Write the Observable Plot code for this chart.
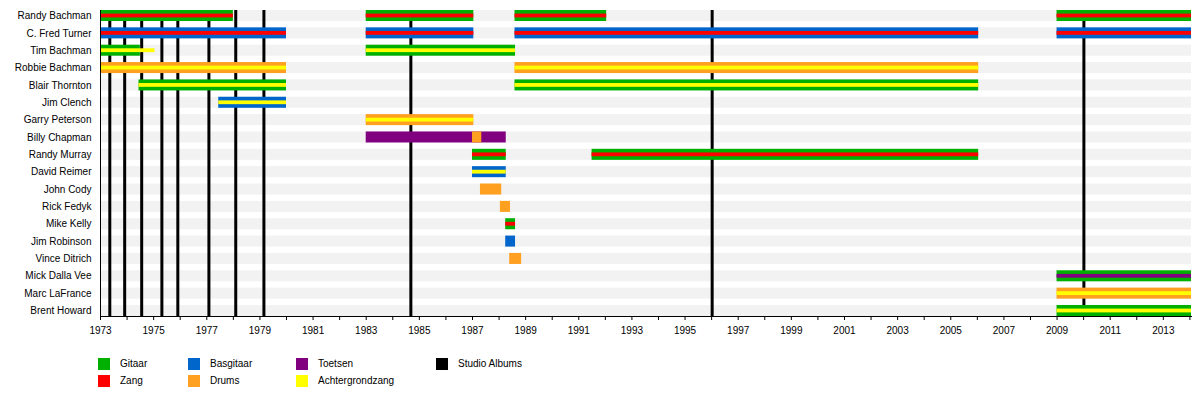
<!DOCTYPE html>
<html>
<head>
<meta charset="utf-8">
<script src="https://cdn.jsdelivr.net/npm/d3@7"></script>
<script src="https://cdn.jsdelivr.net/npm/@observablehq/plot@0.6"></script>
<style>
  body { margin: 0; background: #fff; font-family: "Liberation Sans", Arial, sans-serif; }
  #legend { display: grid; grid-template-columns: 90px 108px 140px auto; grid-auto-flow: column; grid-template-rows: 17px 17px; padding-left: 98px; margin-top: 13px; font-size: 10px; }
  .item { display: flex; align-items: flex-start; height: 17px; }
  .sw { width: 12px; height: 12px; margin-right: 10px; flex: none; }
  .lab { line-height: 12px; color: #000; }
</style>
</head>
<body>
<div id="chart"></div>
<div id="legend"></div>
<script>
const members = ["Randy Bachman", "C. Fred Turner", "Tim Bachman", "Robbie Bachman", "Blair Thornton",
  "Jim Clench", "Garry Peterson", "Billy Chapman", "Randy Murray", "David Reimer", "John Cody",
  "Rick Fedyk", "Mike Kelly", "Jim Robinson", "Vince Ditrich", "Mick Dalla Vee", "Marc LaFrance", "Brent Howard"];

const roles = ["Gitaar", "Zang", "Basgitaar", "Drums", "Toetsen", "Achtergrondzang", "Studio Albums"];
const roleColors = ["#00b000", "#ff0000", "#0066cc", "#ffa020", "#800080", "#ffff00", "#000000"];

const endYear = 2014.06;

// full-height bars: [member, role, start, end]
const mainBars = [
  ["Randy Bachman", "Gitaar", 1973, 1978.0], ["Randy Bachman", "Gitaar", 1983.0, 1987.05],
  ["Randy Bachman", "Gitaar", 1988.6, 1992.05], ["Randy Bachman", "Gitaar", 2009.0, endYear],
  ["C. Fred Turner", "Basgitaar", 1973, 1980.0], ["C. Fred Turner", "Basgitaar", 1983.0, 1987.05],
  ["C. Fred Turner", "Basgitaar", 1988.6, 2006.05], ["C. Fred Turner", "Basgitaar", 2009.0, endYear],
  ["Tim Bachman", "Gitaar", 1973, 1974.5], ["Tim Bachman", "Gitaar", 1983.0, 1988.62],
  ["Robbie Bachman", "Drums", 1973, 1980.0], ["Robbie Bachman", "Drums", 1988.6, 2006.05],
  ["Blair Thornton", "Gitaar", 1974.45, 1980.0], ["Blair Thornton", "Gitaar", 1988.6, 2006.05],
  ["Jim Clench", "Basgitaar", 1977.45, 1980.0],
  ["Garry Peterson", "Drums", 1983.0, 1987.05],
  ["Billy Chapman", "Toetsen", 1983.0, 1988.27], ["Billy Chapman", "Drums", 1987.0, 1987.35],
  ["Randy Murray", "Gitaar", 1987.0, 1988.27], ["Randy Murray", "Gitaar", 1991.5, 2006.05],
  ["David Reimer", "Basgitaar", 1987.0, 1988.27],
  ["John Cody", "Drums", 1987.3, 1988.1],
  ["Rick Fedyk", "Drums", 1988.05, 1988.43],
  ["Mike Kelly", "Gitaar", 1988.25, 1988.62],
  ["Jim Robinson", "Basgitaar", 1988.25, 1988.62],
  ["Vince Ditrich", "Drums", 1988.4, 1988.85],
  ["Mick Dalla Vee", "Gitaar", 2009.0, endYear],
  ["Marc LaFrance", "Drums", 2009.0, endYear],
  ["Brent Howard", "Gitaar", 2009.0, endYear]
];

// thin centre stripes: [member, role, start, end]
const innerBars = [
  ["Randy Bachman", "Zang", 1973, 1978.0], ["Randy Bachman", "Zang", 1983.0, 1987.05],
  ["Randy Bachman", "Zang", 1988.6, 1992.05], ["Randy Bachman", "Zang", 2009.0, endYear],
  ["C. Fred Turner", "Zang", 1973, 1980.0], ["C. Fred Turner", "Zang", 1983.0, 1987.05],
  ["C. Fred Turner", "Zang", 1988.6, 2006.05], ["C. Fred Turner", "Zang", 2009.0, endYear],
  ["Tim Bachman", "Achtergrondzang", 1973, 1975.05], ["Tim Bachman", "Achtergrondzang", 1983.0, 1988.62],
  ["Robbie Bachman", "Achtergrondzang", 1973, 1980.0], ["Robbie Bachman", "Achtergrondzang", 1988.6, 2006.05],
  ["Blair Thornton", "Achtergrondzang", 1974.45, 1980.0], ["Blair Thornton", "Achtergrondzang", 1988.6, 2006.05],
  ["Jim Clench", "Achtergrondzang", 1977.45, 1980.0],
  ["Garry Peterson", "Achtergrondzang", 1983.0, 1987.05],
  ["Randy Murray", "Zang", 1987.0, 1988.27], ["Randy Murray", "Zang", 1991.5, 2006.05],
  ["David Reimer", "Achtergrondzang", 1987.0, 1988.27],
  ["Mike Kelly", "Zang", 1988.25, 1988.62],
  ["Mick Dalla Vee", "Toetsen", 2009.0, endYear],
  ["Marc LaFrance", "Achtergrondzang", 2009.0, endYear],
  ["Brent Howard", "Achtergrondzang", 2009.0, endYear]
];

const albums = [1973.35, 1973.91, 1974.55, 1975.31, 1975.91, 1977.08, 1978.09, 1979.15, 1984.68, 1996.02, 2010.01];

const tickYears = d3.range(1973, 2015);

const toRows = arr => arr.map(([member, role, start, end]) => ({member, role, start, end}));
const main = toRows(mainBars);
const inner = toRows(innerBars);
const colorOf = r => roleColors[roles.indexOf(r)];

const chart = Plot.plot({
  width: 1200,
  height: 345,
  marginLeft: 100,
  marginRight: 9,
  marginTop: 10,
  marginBottom: 29,
  style: {fontFamily: "'Liberation Sans', Arial, sans-serif", fontSize: "10px", background: "white", color: "black"},
  x: {domain: [1973, endYear], label: null},
  y: {domain: members, paddingInner: 0.365, paddingOuter: 0, round: false, label: null},
  marks: [
    Plot.barX(members, {y: d => d, x1: 1973, x2: endYear, fill: "#f2f2f2"}),
    Plot.ruleX(albums, {x: d => d, stroke: "black", strokeWidth: 3}),
    Plot.barX(main, {y: "member", x1: "start", x2: "end", fill: d => colorOf(d.role)}),
    Plot.barX(inner, {y: "member", x1: "start", x2: "end", fill: d => colorOf(d.role), insetTop: 3.6, insetBottom: 3.6}),
    Plot.frame({anchor: "left", stroke: "black"}),
    Plot.frame({anchor: "bottom", stroke: "black"}),
    Plot.axisX({ticks: tickYears, tickFormat: d => (d % 2 === 1 ? String(d) : ""), tickSize: 4, tickPadding: 6, label: null}),
    Plot.axisY({tickSize: 0, tickPadding: 9, label: null})
  ]
});
document.getElementById("chart").appendChild(chart);

const legendOrder = ["Gitaar", "Zang", "Basgitaar", "Drums", "Toetsen", "Achtergrondzang", "Studio Albums"];
const legend = document.getElementById("legend");
for (const r of legendOrder) {
  const it = document.createElement("div");
  it.className = "item";
  it.innerHTML = `<div class="sw" style="background:${colorOf(r)}"></div><span class="lab">${r}</span>`;
  legend.appendChild(it);
}
</script>
</body>
</html>
